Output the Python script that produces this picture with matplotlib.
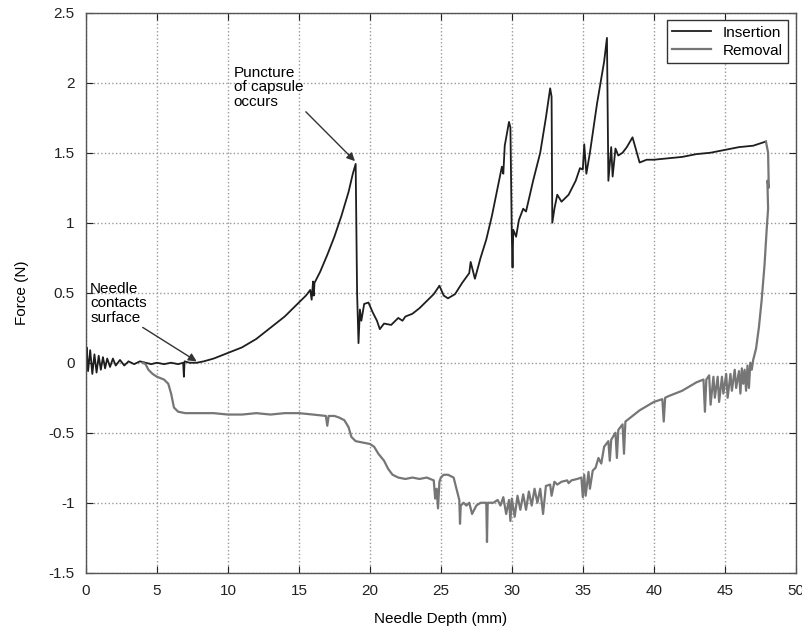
import matplotlib
matplotlib.use("Agg")
import matplotlib.pyplot as plt

plt.rcParams['font.family'] = ['Liberation Sans', 'DejaVu Sans']

ins_x = [0.0, 0.05, 0.15, 0.3, 0.45, 0.6, 0.75, 0.9, 1.05, 1.2, 1.35, 1.5, 1.7, 1.9, 2.1, 2.4, 2.7,
         3.0, 3.4, 3.8, 4.2, 4.6, 5.0, 5.5, 6.0, 6.5, 6.85, 6.9, 6.95, 7.3, 7.8, 8.3, 9.0, 9.5,
         10.0, 10.5, 11.0, 11.5, 12.0, 12.5, 13.0, 13.5, 14.0, 14.5, 15.0, 15.5, 15.8, 15.9, 16.0,
         16.05, 16.1, 16.5, 17.0, 17.5, 18.0, 18.5, 18.8, 19.0, 19.1, 19.2, 19.3, 19.4, 19.6, 19.9,
         20.2, 20.5, 20.7, 21.0, 21.5, 22.0, 22.3, 22.5, 23.0, 23.5, 24.0, 24.5, 24.9, 25.2, 25.5,
         26.0, 26.5, 27.0, 27.1, 27.4, 27.8, 28.2, 28.6, 29.0, 29.3, 29.4, 29.5, 29.8, 29.9, 30.0,
         30.05, 30.1, 30.3, 30.5, 30.8, 31.0, 31.5, 32.0, 32.4, 32.7, 32.8, 32.85, 33.0, 33.2, 33.5,
         34.0, 34.5, 34.8, 35.0, 35.1, 35.25, 35.5, 36.0, 36.5, 36.7, 36.8, 37.0, 37.1, 37.3, 37.5,
         37.8, 38.1, 38.5, 39.0, 39.5, 40.0, 41.0, 42.0, 43.0, 44.0, 45.0, 46.0, 47.0, 47.9]
ins_y = [0.0, 0.11, -0.06, 0.09, -0.08, 0.06, -0.07, 0.05, -0.05, 0.04, -0.04, 0.03, -0.03, 0.03,
         -0.02, 0.02, -0.02, 0.01, -0.01, 0.01, 0.0, -0.01, 0.0, -0.01, 0.0, -0.01, 0.0, -0.1, 0.01,
         0.0, 0.0, 0.01, 0.03, 0.05, 0.07, 0.09, 0.11, 0.14, 0.17, 0.21, 0.25, 0.29, 0.33, 0.38, 0.43,
         0.48, 0.52, 0.45, 0.58, 0.48, 0.57, 0.65, 0.77, 0.9, 1.05, 1.22, 1.35, 1.42, 0.5, 0.14, 0.38,
         0.30, 0.42, 0.43, 0.36, 0.3, 0.24, 0.28, 0.27, 0.32, 0.30, 0.33, 0.35, 0.39, 0.44, 0.49, 0.55,
         0.48, 0.46, 0.49, 0.57, 0.64, 0.72, 0.6, 0.75, 0.88, 1.05, 1.25, 1.4, 1.35, 1.55, 1.72, 1.68,
         0.9, 0.68, 0.95, 0.9, 1.02, 1.1, 1.08, 1.3, 1.5, 1.75, 1.96, 1.9, 1.0, 1.1, 1.2, 1.15, 1.2,
         1.3, 1.39, 1.38, 1.56, 1.35, 1.5, 1.85, 2.15, 2.32, 1.3, 1.54, 1.33, 1.53, 1.48, 1.5, 1.54,
         1.61, 1.43, 1.45, 1.45, 1.46, 1.47, 1.49, 1.5, 1.52, 1.54, 1.55, 1.58]

rem_x = [47.9, 48.05, 48.1, 48.0, 48.05, 47.95, 47.8, 47.6, 47.4, 47.2, 47.0, 46.9, 46.8, 46.7,
         46.6, 46.5, 46.4, 46.3, 46.2, 46.1, 46.0, 45.8, 45.7, 45.5, 45.4, 45.2, 45.1, 44.9, 44.8,
         44.6, 44.5, 44.3, 44.2, 44.0, 43.9, 43.7, 43.6, 43.5, 43.0, 42.5, 42.0, 41.5, 41.0, 40.8,
         40.7, 40.6, 40.0, 39.5, 39.0, 38.5, 38.0, 37.9, 37.8, 37.5, 37.4, 37.3, 37.0, 36.9, 36.8,
         36.5, 36.3, 36.1, 35.9, 35.7, 35.5, 35.4, 35.2, 35.1, 35.0, 34.9, 34.6, 34.2, 34.0, 33.9,
         33.5, 33.2, 33.0, 32.8, 32.7, 32.4, 32.2, 32.0, 31.8, 31.6, 31.4, 31.2, 31.0, 30.8, 30.6,
         30.4, 30.2, 30.0, 29.9, 29.8, 29.6, 29.4, 29.2, 29.0, 28.7, 28.3, 28.25, 28.2, 27.8, 27.5,
         27.2, 27.0, 26.8, 26.6, 26.4, 26.35, 26.3, 26.1, 25.9, 25.5, 25.2, 25.0, 24.9, 24.8, 24.7,
         24.6, 24.5, 24.0, 23.5, 23.0, 22.5, 22.0, 21.6, 21.3, 21.0, 20.6, 20.3, 20.0, 19.5, 19.0,
         18.7, 18.5, 18.2, 17.8, 17.5, 17.1, 17.0, 16.9, 16.0, 15.0, 14.0, 13.0, 12.0, 11.0, 10.0,
         9.0, 8.0, 7.0, 6.5, 6.2, 6.0, 5.8, 5.5, 5.0, 4.7, 4.4, 4.2, 4.0]
rem_y = [1.58, 1.5, 1.25, 1.3, 1.1, 0.95, 0.7, 0.45, 0.25, 0.1, 0.02, -0.05, 0.0, -0.18, -0.02,
         -0.2, -0.05, -0.15, -0.04, -0.22, -0.06, -0.18, -0.05, -0.2, -0.08, -0.25, -0.08, -0.22,
         -0.1, -0.28, -0.1, -0.25, -0.1, -0.3, -0.09, -0.12, -0.35, -0.12, -0.14, -0.17, -0.2, -0.22,
         -0.24, -0.25, -0.42, -0.26, -0.28, -0.31, -0.34, -0.38, -0.42, -0.65, -0.44, -0.48, -0.68,
         -0.5, -0.55, -0.7, -0.56, -0.6, -0.72, -0.68, -0.75, -0.77, -0.9, -0.78, -0.95, -0.8, -0.96,
         -0.82, -0.83, -0.84, -0.86, -0.84, -0.85, -0.87, -0.85, -0.95, -0.87, -0.88, -1.08, -0.9,
         -1.0, -0.9, -1.02, -0.92, -1.05, -0.94, -1.05, -0.95, -1.1, -0.97, -1.13, -0.98, -1.08,
         -0.96, -1.02, -0.98, -1.0, -1.0, -1.28, -1.0, -1.0, -1.02, -1.08, -1.0, -1.02, -1.0, -1.02,
         -1.15, -0.98, -0.9, -0.82, -0.8, -0.8, -0.82, -0.85, -1.04, -0.9, -0.97, -0.84, -0.82,
         -0.83, -0.82, -0.83, -0.82, -0.8, -0.76, -0.7, -0.65, -0.6, -0.58, -0.57, -0.56, -0.53,
         -0.46, -0.41, -0.39, -0.38, -0.38, -0.45, -0.38, -0.37, -0.36, -0.36, -0.37, -0.36, -0.37,
         -0.37, -0.36, -0.36, -0.36, -0.35, -0.32, -0.22, -0.15, -0.12, -0.1, -0.08, -0.05, -0.01, 0.0]

x_ticks = [0, 5, 10, 15, 20, 25, 30, 35, 40, 45, 50]
y_ticks = [-1.5, -1, -0.5, 0, 0.5, 1, 1.5, 2, 2.5]
y_tick_labels = ['-1.5', '-1', '-0.5', '0', '0.5', '1', '1.5', '2', '2.5']

fig = plt.figure(figsize=(8.03, 6.35), dpi=100)
ax = fig.add_axes([0.107, 0.098, 0.884, 0.882])

ax.plot(ins_x, ins_y, color='#1e1e1e', lw=1.3, label='Insertion')
ax.plot(rem_x, rem_y, color='#767676', lw=1.6, label='Removal')

ax.set_xlim(0, 50)
ax.set_ylim(-1.5, 2.5)
ax.set_xticks(x_ticks)
ax.set_yticks(y_ticks)
ax.set_yticklabels(y_tick_labels)
ax.tick_params(direction='in', labelsize=11, length=5, colors='#222222', pad=8,
               top=True, right=True)
ax.grid(True, linestyle=':', color='#999999', lw=1.0)
for s in ax.spines.values():
    s.set_color('#555555')
    s.set_linewidth(1.0)

ax.set_xlabel('Needle Depth (mm)', fontsize=11, labelpad=10)
ax.set_ylabel('Force (N)', fontsize=11, labelpad=14)

leg = ax.legend(loc='upper right', fontsize=11, fancybox=False, edgecolor='#333333',
                framealpha=1, handlelength=2.5, borderaxespad=0.5, labelspacing=0.25,
                borderpad=0.35)
leg.get_frame().set_linewidth(1.0)

ax.annotate('Needle\ncontacts\nsurface', xy=(7.8, 0.01), xytext=(0.3, 0.58),
            fontsize=11, va='top', ha='left', linespacing=1.05,
            arrowprops=dict(arrowstyle='-|>', color='#333333', lw=1.0,
                            shrinkA=0, shrinkB=0, relpos=(0.85, 0.0),
                            mutation_scale=12))
ax.annotate('Puncture\nof capsule\noccurs', xy=(18.95, 1.44), xytext=(10.4, 2.12),
            fontsize=11, va='top', ha='left', linespacing=1.05,
            arrowprops=dict(arrowstyle='-|>', color='#333333', lw=1.0,
                            shrinkA=0, shrinkB=0, relpos=(1.0, 0.0),
                            mutation_scale=12))

fig.savefig('out.png', dpi=100)
